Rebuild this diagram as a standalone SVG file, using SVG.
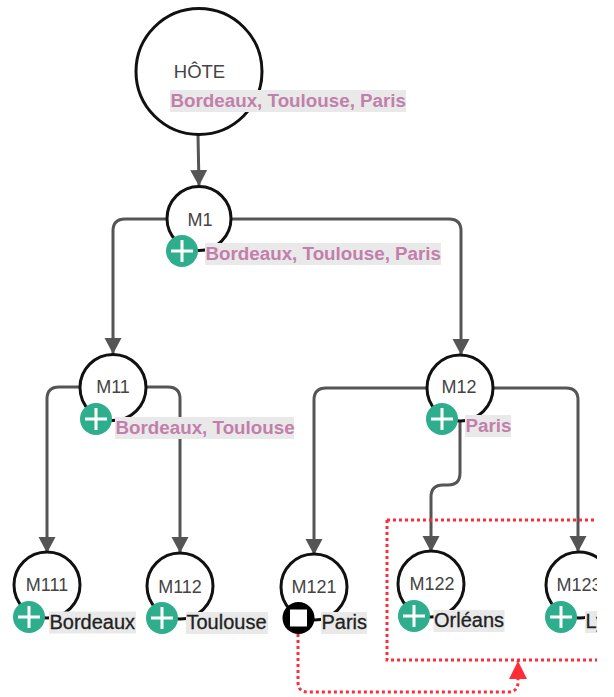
<svg xmlns="http://www.w3.org/2000/svg" width="614" height="697" viewBox="0 0 614 697">
<style>
.n{fill:#fff;stroke:#111;stroke-width:3}
.c{fill:none;stroke:#555;stroke-width:3}
.r{fill:none;stroke:#ff2d37;stroke-width:3;stroke-dasharray:3 3}
.t{font-family:"Liberation Sans",Arial,sans-serif;font-size:18px;fill:#444;text-anchor:middle}
.l{font-family:"Liberation Sans",Arial,sans-serif}
.p{fill:#c27fab;font-size:18.800px;font-weight:bold}
.k{fill:#222;stroke:#222;stroke-width:.3;font-size:20px}
.b{fill:#e9e9e9}
.a{fill:#2fae8d}
.w{stroke:#fff;stroke-width:3;fill:none}
</style>
<defs>
<clipPath id="clip"><rect x="0" y="0" width="597" height="697"/></clipPath>
<marker id="arr" markerUnits="userSpaceOnUse" markerWidth="18" markerHeight="18" refX="16" refY="8.5" orient="auto"><path d="M0 0L16 8.5L0 17Z" fill="#555"/></marker>
<marker id="red" markerUnits="userSpaceOnUse" markerWidth="20" markerHeight="20" refX="18" refY="9" orient="auto"><path d="M0 0L18 9L0 18Z" fill="#ff2d37"/></marker>
<g id="plus"><circle r="16" class="a"/><path d="M-11 0H11M0-11V11" class="w"/></g>
</defs>
<g clip-path="url(#clip)">
<g id="connectors">
<path class="c" marker-end="url(#arr)" d="M198 135L199 186"/>
<path class="c" marker-end="url(#arr)" d="M166 219H125Q113 219 113 231V354"/>
<path class="c" marker-end="url(#arr)" d="M232 219H449Q461 219 461 231V355"/>
<path class="c" marker-end="url(#arr)" d="M80 387H59Q47 387 47 399V553"/>
<path class="c" marker-end="url(#arr)" d="M146 387H168Q180 387 180 399V553"/>
<path class="c" marker-end="url(#arr)" d="M427 388H326Q314 388 314 400V555"/>
<path class="c" marker-end="url(#arr)" d="M493 388H566Q578 388 578 400V552"/>
<path class="c" marker-end="url(#arr)" d="M460 420V473Q460 485 448 485H443Q431 485 431 497V552"/>
<path class="r" d="M387 520H620M387 520V660H620"/>
<path class="r" marker-end="url(#red)" d="M298 628V682Q298 692 308 692H508Q518 692 518 682V661"/>
</g>
<g id="hote"><circle class="n" cx="199" cy="71.5" r="63"/><text class="t" style="font-size:18.500px" x="199.500" y="78">HÔTE</text><rect class="b" x="170" y="90" width="236" height="22"/><text class="l p" x="170.500" y="107">Bordeaux, Toulouse, Paris</text></g>
<g id="m1"><circle class="n" cx="199" cy="218.500" r="32"/><text class="t" x="200" y="226">M1</text><use href="#plus" x="182" y="251"/><rect class="b" x="205" y="243" width="236" height="22"/><text class="l p" x="205.500" y="260">Bordeaux, Toulouse, Paris</text></g>
<g id="m11"><circle class="n" cx="113" cy="387.500" r="33"/><text class="t" x="113" y="393">M11</text><use href="#plus" x="96" y="419"/><rect class="b" x="115" y="417" width="179" height="22"/><text class="l p" x="115.500" y="434">Bordeaux, Toulouse</text></g>
<g id="m12"><circle class="n" cx="460" cy="388" r="33"/><text class="t" x="459" y="393">M12</text><use href="#plus" x="442" y="419"/><rect class="b" x="465" y="415" width="46" height="22"/><text class="l p" x="465.500" y="432">Paris</text></g>
<g id="m111"><circle class="n" cx="47" cy="585" r="33"/><text class="t" x="47" y="591">M111</text><use href="#plus" x="29" y="617"/><rect class="b" x="49" y="611.500" width="87" height="22"/><text class="l k" x="49.500" y="628.500">Bordeaux</text></g>
<g id="m112"><circle class="n" cx="180" cy="586" r="33"/><text class="t" x="180" y="592.500">M112</text><use href="#plus" x="162" y="618"/><rect class="b" x="186" y="612" width="82" height="22"/><text class="l k" x="186.500" y="629">Toulouse</text></g>
<g id="m121"><circle class="n" cx="314" cy="587" r="33"/><text class="t" x="314" y="592.500">M121</text><circle cx="298.500" cy="618" r="16" fill="#000"/><rect x="290" y="609.500" width="17" height="17" fill="#fff"/><rect class="b" x="321" y="612" width="46" height="22"/><text class="l k" x="321.500" y="629">Paris</text></g>
<g id="m122"><circle class="n" cx="431" cy="584" r="33"/><text class="t" x="432" y="590">M122</text><use href="#plus" x="414" y="616"/><rect class="b" x="433.500" y="610" width="71" height="22"/><text class="l k" x="434" y="627">Orléans</text></g>
<g id="m123"><circle class="n" cx="579" cy="585" r="33"/><text class="t" x="579" y="591">M123</text><use href="#plus" x="561" y="617"/><rect class="b" x="585" y="611" width="45" height="22"/><text class="l k" x="585.500" y="628">Lyon</text></g>
</g>
</svg>
